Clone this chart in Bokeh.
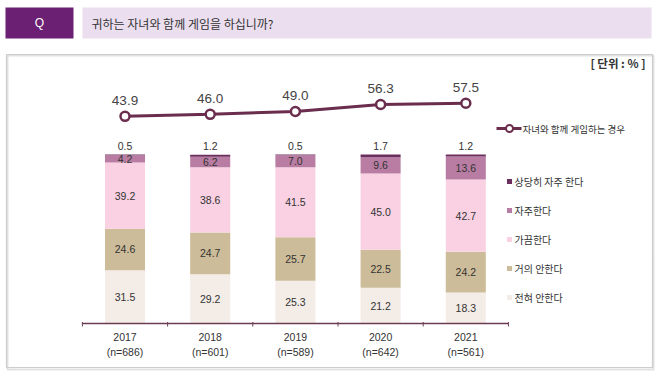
from bokeh.plotting import figure
from bokeh.models import Range1d, ColumnDataSource
from bokeh.core.properties import value
from bokeh.embed import file_html
from bokeh.resources import INLINE

# ---------------- data ----------------
years = ["2017", "2018", "2019", "2020", "2021"]
sample_sizes = ["(n=686)", "(n=601)", "(n=589)", "(n=642)", "(n=561)"]
series_keys = ["never", "rarely", "sometimes", "often", "very_often"]
series_names = ["전혀 안한다", "거의 안한다", "가끔한다", "자주한다", "상당히 자주 한다"]
never = [31.5, 29.2, 25.3, 21.2, 18.3]
rarely = [24.6, 24.7, 25.7, 22.5, 24.2]
sometimes = [39.2, 38.6, 41.5, 45.0, 42.7]
often = [4.2, 6.2, 7.0, 9.6, 13.6]
very_often = [0.5, 1.2, 0.5, 1.7, 1.2]
play_rate = [43.9, 46.0, 49.0, 56.3, 57.5]
line_name = "자녀와 함께 게임하는 경우"
question = "귀하는 자녀와 함께 게임을 하십니까?"
unit_label = "[ 단위 : % ]"
series_colors = ["#F4ECE7", "#CDBC99", "#F9D1E2", "#B97DA3", "#6C2E5C"]
line_color = "#6B2D4E"

KR = value("Noto Sans CJK KR")
NUM = value("Liberation Sans")

# ---------------- geometry ----------------
W, H = 660, 374
OFF = 0              # page offset of the figure
STEP = 85.2          # px per category
X0 = 124.5           # fig px of first category
PPU = 1.69           # px per percent (bars)
BASE = 323           # fig px (from top) of 0 %
LPPU = 0.96          # px per unit (line)
LBASE = 158          # fig px (from top) of 0 on line scale


def X(ref):
    return (ref - OFF - X0) / STEP


def Y(ref):
    return (BASE + OFF - ref) / PPU


p = figure(width=W, height=H, output_backend="svg", toolbar_location=None,
           x_range=Range1d(-X0 / STEP, (W - X0) / STEP),
           y_range=Range1d(-(H - BASE) / PPU, BASE / PPU),
           min_border=0, outline_line_color=None)
p.extra_y_ranges = {"line": Range1d(-(H - LBASE) / LPPU, LBASE / LPPU)}
p.axis.visible = False
p.grid.visible = False
p.background_fill_color = "white"
p.border_fill_color = "white"

# frame
p.quad(left=X(7), right=X(653), top=Y(55), bottom=Y(369), fill_color=None,
       line_color="#e2e2e2", line_width=2)
p.quad(left=X(6), right=X(652), top=Y(54), bottom=Y(367), fill_color=None,
       line_color="#cdcdcd", line_width=1.2)

# header
p.quad(left=X(5), right=X(73), top=Y(7), bottom=Y(38), fill_color="#6B2074", line_color=None)
p.quad(left=X(82), right=X(651), top=Y(7), bottom=Y(38), fill_color="#EBDEEF", line_color=None)
p.text(x=[X(39)], y=[Y(22.5)], text=["Q"], text_font=NUM, text_font_size=value("12px"),
       text_color="white", text_align="center", text_baseline="middle")
p.text(x=[X(91)], y=[Y(22.5)], text=[question], text_font=KR, text_font_size=value("12px"),
       text_color="#333333", text_align="left", text_baseline="middle")
p.text(x=[X(645)], y=[Y(62)], text=[unit_label], text_font=KR, text_font_size=value("11.5px"),
       text_color="#333333", text_align="right", text_baseline="middle", text_font_style="bold")

# stacked bars
xs = list(range(len(years)))
data = dict(x=xs, never=never, rarely=rarely, sometimes=sometimes, often=often,
            very_often=very_often)
src = ColumnDataSource(data)
p.vbar_stack(series_keys, x="x", width=0.47, source=src, color=series_colors,
             line_color=None)

# segment labels
vals = [never, rarely, sometimes, often]
lx, ly, lt = [], [], []
for i in xs:
    cum = 0.0
    for s in vals:
        v = s[i]
        lx.append(i)
        ly.append(cum + v / 2)
        lt.append(f"{v:.1f}")
        cum += v
p.text(x=lx, y=ly, text=lt, text_font=NUM, text_font_size=value("10.5px"),
       text_color="#333333", text_align="center", text_baseline="middle")
top_y = [never[i] + rarely[i] + sometimes[i] + often[i] + very_often[i] for i in xs]
p.text(x=xs, y=top_y, text=[f"{v:.1f}" for v in very_often], y_offset=-9,
       text_font=NUM, text_font_size=value("10.5px"), text_color="#333333",
       text_align="center", text_baseline="middle")

# axis line & ticks
p.segment(x0=[-0.5], y0=[0], x1=[len(years) - 0.5], y1=[0], line_color="#6B3D55", line_width=1.3)
tick_x = [i - 0.5 for i in range(len(years) + 1)]
p.segment(x0=tick_x, y0=[Y(321.5)] * len(tick_x), x1=tick_x, y1=[Y(326)] * len(tick_x),
          line_color="#6B3D55", line_width=1)

# category labels
p.text(x=xs, y=[0] * len(xs), text=years, y_offset=13, text_font=NUM,
       text_font_size=value("10.5px"), text_color="#333333", text_align="center",
       text_baseline="middle")
p.text(x=xs, y=[0] * len(xs), text=sample_sizes, y_offset=28, text_font=NUM,
       text_font_size=value("10.5px"), text_color="#333333", text_align="center",
       text_baseline="middle")

# line series
p.line(x=xs, y=play_rate, y_range_name="line", line_color=line_color, line_width=3)
p.scatter(x=xs, y=play_rate, y_range_name="line", size=9, marker="circle",
          fill_color="white", line_color=line_color, line_width=2.5)
p.text(x=xs, y=play_rate, y_range_name="line", text=[f"{v:.1f}" for v in play_rate],
       y_offset=-16, text_font=NUM, text_font_size=value("13.5px"), text_color="#444444",
       text_align="center", text_baseline="middle")

# legend: line
p.line(x=[X(496), X(521)], y=[Y(128), Y(128)], line_color=line_color, line_width=3)
p.scatter(x=[X(509)], y=[Y(128)], size=7, marker="circle", fill_color="white",
          line_color=line_color, line_width=2)
p.text(x=[X(522)], y=[Y(128)], text=[line_name], text_font=KR, text_font_size=value("9.5px"),
       text_color="#333333", text_align="left", text_baseline="middle")

# legend: squares (top to bottom)
leg_names = list(reversed(series_names))
leg_colors = list(reversed(series_colors))
leg_y = [Y(181 + 29 * k) for k in range(len(leg_names))]
p.scatter(x=[X(509)] * len(leg_names), y=leg_y, marker="square", size=5,
          fill_color=leg_colors, line_color=None)
p.text(x=[X(514)] * len(leg_names), y=leg_y, text=leg_names, text_font=KR,
       text_font_size=value("10px"), text_color="#333333", text_align="left",
       text_baseline="middle")

open("out.html", "w").write(file_html(p, INLINE))
